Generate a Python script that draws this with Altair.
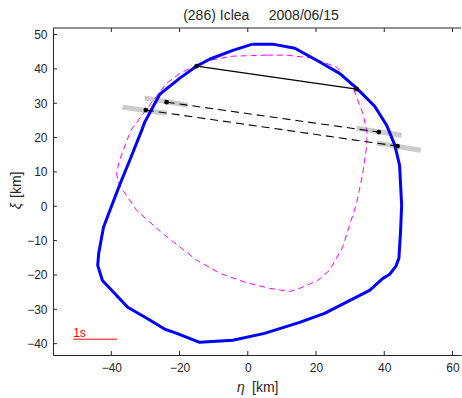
import altair as alt
import pandas as pd

# ---- data ----
blue_eta = [1.4, 7.3, 13.8, 20.2, 26.9, 31.9, 37.2, 40.7, 43.1, 44.5, 45.1, 44.8, 44.3, 43.4, 41.6, 39.6,
            35.7, 27.8, 22.5, 15.2, 4.9, -4.4, -14.1, -20.8, -24.3, -29.6, -35.2, -42.6, -44.0, -43.7, -42.3,
            -37.6, -34.6, -31.1, -30.2, -25.8, -19.9, -15.0, -11.2, -4.4, 1.4]
blue_xi = [47.2, 47.2, 46.0, 42.5, 38.7, 34.4, 29.1, 23.6, 17.8, 11.9, 0.3, -7.0, -15.1, -17.5, -19.8, -21.0,
           -24.5, -28.5, -31.2, -33.8, -37.0, -39.0, -39.6, -37.0, -35.8, -32.6, -29.4, -21.6, -17.2, -13.7, -6.1,
           6.1, 13.4, 22.1, 24.5, 32.6, 37.3, 40.8, 42.8, 45.4, 47.2]

mag_eta = [5.6, 11.4, 19.0, 26.1, 30.8, 33.7, 34.9, 34.9, 33.7, 31.9, 27.8, 24.0, 20.5, 15.2, 12.3, 6.4, -0.9,
           -8.2, -15.0, -25.0, -32.6, -37.6, -38.5, -37.6, -34.3, -28.8, -23.8, -19.9, -15.0, -11.2, -4.4, 5.6]
mag_xi = [44.0, 44.0, 43.1, 40.5, 34.7, 27.1, 22.1, 17.8, 9.6, 0.9, -11.9, -18.6, -21.6, -23.9, -24.8, -23.9, -22.1,
          -19.5, -15.7, -7.9, -1.2, 6.1, 9.6, 13.4, 22.1, 29.4, 35.8, 38.7, 41.1, 42.5, 43.7, 44.0]

chord_id = ["solid", "solid", "d1", "d1", "d2", "d2"]
chord_eta = [-15.0, 31.9, -23.8, 38.4, -29.9, 43.9]
chord_xi = [40.8, 34.1, 30.3, 21.6, 28.0, 17.5]

bar_id = ["d1L", "d1L", "d1R", "d1R", "d2L", "d2L", "d2R", "d2R"]
bar_eta = [-30.2, -17.6, 31.9, 45.1, -36.7, -23.8, 37.8, 50.7]
bar_xi = [31.5, 29.4, 22.7, 20.7, 28.8, 27.1, 18.4, 16.3]

scale_eta = [-51.2]
scale_eta2 = [-38.3]
scale_xi = [-38.7]
scale_label = ["1s"]

x_ticks = [-40, -20, 0, 20, 40, 60]
y_ticks = [-40, -30, -20, -10, 0, 10, 20, 30, 40, 50]

title_text = "(286) Iclea\u00a0\u00a0\u00a0\u00a0\u00a02008/06/15"
x_sym, y_sym, unit = "η", "ξ", "[km]"

# ---- chart ----
W, H = 408, 327
XDOM = [-57.1, 62.5]
YDOM = [-43.3, 51.9]
FONT = "Liberation Sans"
TXT = "#262626"

xs = alt.Scale(domain=XDOM, nice=False, zero=False)
ys = alt.Scale(domain=YDOM, nice=False, zero=False)

blue = pd.DataFrame({"eta": blue_eta, "xi": blue_xi, "i": range(len(blue_eta))})
mag = pd.DataFrame({"eta": mag_eta, "xi": mag_xi, "i": range(len(mag_eta))})
chords = pd.DataFrame({"id": chord_id, "eta": chord_eta, "xi": chord_xi})
bars = pd.DataFrame({"id": bar_id, "eta": bar_eta, "xi": bar_xi})
scale = pd.DataFrame({"eta": scale_eta, "eta2": scale_eta2, "xi": scale_xi, "t": scale_label})
xt = pd.DataFrame({"eta": x_ticks})
yt = pd.DataFrame({"xi": y_ticks})
one = pd.DataFrame({"a": [0]})

xaxis = alt.Axis(title=None, values=x_ticks, ticks=False, labelOverlap=False, labelPadding=7)
yaxis = alt.Axis(title=None, values=y_ticks, ticks=False, labelOverlap=False, labelPadding=6)
X = alt.X("eta:Q", scale=xs, axis=xaxis)
Y = alt.Y("xi:Q", scale=ys, axis=yaxis)

gray = alt.Chart(bars).mark_line(color="#cccccc", strokeWidth=5).encode(
    x=X, y=Y, detail="id:N")

magenta = alt.Chart(mag).mark_line(color="#ff00ff", strokeWidth=1, strokeDash=[6, 4]).encode(
    x=X, y=Y, order="i:Q")

bluel = alt.Chart(blue).mark_line(color="#0000ff", strokeWidth=3, strokeJoin="round").encode(
    x=X, y=Y, order="i:Q")

solid = alt.Chart(chords).transform_filter(alt.datum.id == "solid").mark_line(
    color="black", strokeWidth=1.1).encode(x=X, y=Y, detail="id:N")

dashed = alt.Chart(chords).transform_filter(alt.datum.id != "solid").mark_line(
    color="black", strokeWidth=1.1, strokeDash=[8, 5]).encode(x=X, y=Y, detail="id:N")

dots = alt.Chart(chords).mark_point(filled=True, color="black", size=22, opacity=1).encode(
    x=X, y=Y)

sbar = alt.Chart(scale).mark_rule(color="#ff0000", strokeWidth=1).encode(
    x=X, x2="eta2:Q", y=Y)
stext = alt.Chart(scale).mark_text(color="#ff0000", font=FONT, fontSize=12, align="left",
                                   baseline="alphabetic", dy=-2).encode(x=X, y=Y, text="t:N")

top_border = alt.Chart(one).mark_rule(color=TXT, strokeWidth=1).encode(
    x=alt.value(0), x2=alt.value(W), y=alt.value(0))

tick_bot = alt.Chart(xt).mark_rule(color=TXT, strokeWidth=1).encode(
    x=X, y=alt.value(H), y2=alt.value(H - 4))
tick_top = alt.Chart(xt).mark_rule(color=TXT, strokeWidth=1).encode(
    x=X, y=alt.value(0), y2=alt.value(4))
tick_left = alt.Chart(yt).mark_rule(color=TXT, strokeWidth=1).encode(
    y=Y, x=alt.value(0), x2=alt.value(4))

# axis titles: italic symbol + upright unit
xsym = alt.Chart(one).mark_text(text=x_sym, font=FONT, fontSize=14, fontStyle="italic", color=TXT,
                                align="center", baseline="middle").encode(x=alt.value(188), y=alt.value(360))
xunit = alt.Chart(one).mark_text(text=unit, font=FONT, fontSize=14, color=TXT,
                                 align="left", baseline="middle").encode(x=alt.value(199), y=alt.value(360))
ysym = alt.Chart(one).mark_text(text=y_sym, font=FONT, fontSize=14, fontStyle="italic", color=TXT, angle=270,
                                align="center", baseline="middle").encode(x=alt.value(-36), y=alt.value(178))
yunit = alt.Chart(one).mark_text(text=unit, font=FONT, fontSize=14, color=TXT, angle=270,
                                 align="left", baseline="middle").encode(x=alt.value(-36), y=alt.value(170))

chart = alt.layer(
    gray, magenta, bluel, solid, dashed, dots, sbar, stext, top_border, tick_bot, tick_top, tick_left,
    xsym, xunit, ysym, yunit
).properties(
    width=W, height=H,
    title=alt.TitleParams(title_text, font=FONT, fontSize=14, fontWeight="normal", color=TXT,
                          anchor="middle", offset=5, dx=4),
    padding={"left": 53, "top": 28, "right": 1, "bottom": 43},
    autosize=alt.AutoSizeParams(type="none"),
).configure_view(stroke=None).configure_axis(
    domainColor=TXT, domainWidth=1, labelFont=FONT, labelFontSize=12, labelColor=TXT, grid=False,
)

chart.save("out.html", embed_options={"renderer": "svg", "actions": False})
